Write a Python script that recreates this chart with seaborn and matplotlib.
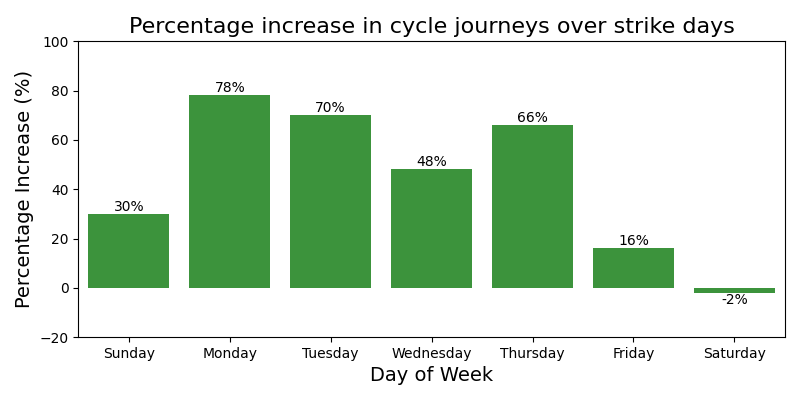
import matplotlib
matplotlib.use("Agg")
import matplotlib.pyplot as plt
import seaborn as sns
import pandas as pd

days = ["Sunday", "Monday", "Tuesday", "Wednesday", "Thursday", "Friday", "Saturday"]
increase = [30, 78, 70, 48, 66, 16, -2]

df = pd.DataFrame({"Day": days, "Increase": increase})

fig, ax = plt.subplots(figsize=(8, 4), dpi=100)
sns.barplot(data=df, x="Day", y="Increase", color="#3c933c", saturation=1, ax=ax)
for c in ax.containers:
    ax.bar_label(c, labels=[f"{v:.0f}%" for v in c.datavalues], fontsize=10)
ax.set_ylim(-20, 100)
ax.set_title("Percentage increase in cycle journeys over strike days", fontsize=16)
ax.set_xlabel("Day of Week", fontsize=14)
ax.set_ylabel("Percentage Increase (%)", fontsize=14)
fig.subplots_adjust(left=0.098, right=0.981, top=0.897, bottom=0.157)
fig.savefig("out.png", dpi=100)
